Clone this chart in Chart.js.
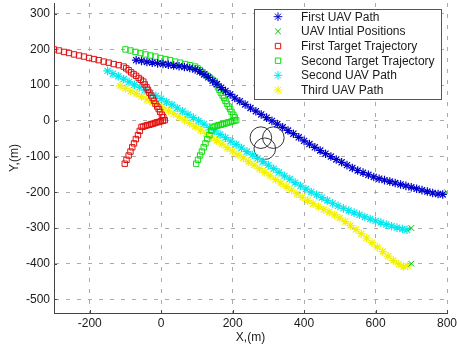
<!DOCTYPE html>
<html>
<head>
<meta charset="utf-8">
<script src="https://cdn.jsdelivr.net/npm/chart.js@4.4.1/dist/chart.umd.min.js"></script>
<style>
html,body{margin:0;padding:0;background:#fff;}
#wrap{width:457px;height:347px;position:relative;}
</style>
</head>
<body>
<div id="wrap"><canvas id="c" width="457" height="347"></canvas></div>
<script>
// ---- data ----
const xTicks = [-200, 0, 200, 400, 600, 800];
const yTicks = [-500, -400, -300, -200, -100, 0, 100, 200, 300];

const seriesLabels = ["First UAV Path", "UAV Intial Positions", "First Target Trajectory",
  "Second Target Trajectory", "Second UAV Path", "Third UAV Path"];

const uav1X = [-70,-55,-40,-25,-10,5,20,35,50,65,80,95,108,120,132,144,156,168,180,193,206,220,
  235,250,265,280,295,310,325,340,355,370,385,400,415,430,445,460,475,490,505,520,535,550,
  565,580,595,610,625,640,655,670,685,700,715,730,745,760,775,788];
const uav1Y = [170,168,165,163,161,159,157,155,153,151,148,144,138,130,122,112,103,93,84,74,64,55,
  46,36,27,18,9,0,-9,-18,-27,-36,-46,-56,-65,-74,-83,-92,-100,-108,-116,-124,-132,-139,
  -145,-151,-157,-162,-166,-170,-174,-178,-182,-186,-190,-194,-198,-202,-205,-206];

const initX = [800, 700, 700];
const initY = [-200, -300, -400];

const target1X = [-300,-286,-272,-258,-244,-230,-216,-202,-188,-175,-161,-147,-133,-119,-105,
  -98,-91,-84,-77,-70,-63,-57,-50,
  -46,-41,-37,-33,-28,-24,-20,-16,-11,-7,-3,2,6,10,
  5,-1,-6,-12,-17,-23,-28,-33,-39,-44,-50,-55,
  -60,-65,-71,-76,-81,-86,-91,-97,-102];
const target1Y = [200,197,193,190,186,183,180,176,173,170,166,163,159,156,152,
  147,142,136,131,126,120,115,110,
  102,94,87,79,71,64,56,48,40,33,25,17,10,2,
  0,-1,-3,-4,-6,-8,-9,-11,-12,-14,-16,-17,
  -28,-40,-51,-63,-74,-86,-97,-109,-120];

const target2X = [-100,-86,-72,-58,-44,-30,-16,-2,12,25,39,53,67,81,95,
  102,109,116,123,130,137,143,150,
  154,159,163,167,172,176,180,184,189,193,197,202,206,210,
  205,199,194,188,183,177,172,167,161,156,150,145,
  140,135,129,124,119,114,109,103,98];
const target2Y = [200,197,193,190,186,183,180,176,173,170,166,163,159,156,152,
  147,142,136,131,126,120,115,110,
  102,94,87,79,71,64,56,48,40,33,25,17,10,2,
  0,-1,-3,-4,-6,-8,-9,-11,-12,-14,-16,-17,
  -28,-40,-51,-63,-74,-86,-97,-109,-120];

const uav2X = [-150,-135,-120,-105,-90,-75,-60,-45,-30,-15,0,15,30,45,60,75,90,105,120,135,
  150,165,180,195,210,225,240,255,270,285,300,315,330,345,360,375,390,405,420,435,
  450,465,480,495,510,525,540,555,570,585,600,615,630,645,660,675,688];
const uav2Y = [140,132,125,117,109,101,94,86,78,70,62,53,45,36,27,18,9,0,-9,-19,
  -28,-38,-47,-57,-66,-76,-86,-95,-105,-114,-124,-134,-144,-154,-163,-173,-182,-191,-199,-207,
  -215,-223,-231,-238,-245,-251,-257,-263,-269,-275,-280,-285,-290,-295,-299,-303,-305];

const uav3X = [-115,-100,-85,-70,-55,-40,-25,-10,5,20,35,50,65,80,95,110,125,140,155,170,
  185,200,215,230,245,260,275,290,305,320,335,350,365,380,395,410,425,440,455,470,
  485,500,515,530,545,560,575,590,605,620,635,650,665,678,690];
const uav3Y = [98,91,83,76,68,60,52,45,37,28,20,11,2,-7,-16,-26,-35,-45,-55,-65,
  -75,-85,-95,-104,-114,-124,-134,-144,-154,-164,-174,-184,-194,-204,-214,-223,-232,-240,-248,-255,
  -263,-272,-282,-293,-304,-316,-328,-341,-353,-366,-379,-391,-401,-408,-406];

const circleX = [279, 314, 290];
const circleY = [-47, -47, -78];

// ---- styling ----
const FONT = '"Liberation Sans", Arial, Helvetica, sans-serif';
const TXT = '#1a1a1a';

function pts(xs, ys){ return xs.map((x,i)=>({x:x, y:ys[i]})); }
function mk(label, xs, ys, style, color, r, bw){
  return {label:label, data:pts(xs,ys), showLine:false, pointStyle:style, pointRadius:r,
    pointHoverRadius:r, pointBorderColor:color, pointBackgroundColor:'rgba(0,0,0,0)',
    pointBorderWidth:bw, borderColor:color, backgroundColor:'rgba(0,0,0,0)'};
}

const styles = [
  {style:'star', color:'#0000cc', r:4.3, bw:1.2},
  {style:'crossRot', color:'#00c000', r:4, bw:1},
  {style:'rect', color:'#e01010', r:3.8, bw:1},
  {style:'rect', color:'#10e010', r:3.8, bw:1},
  {style:'star', color:'#00e8ee', r:4.3, bw:1.2},
  {style:'star', color:'#f2f200', r:4.3, bw:1.2}
];

const datasets = [
  mk(seriesLabels[0], uav1X, uav1Y, styles[0].style, styles[0].color, styles[0].r, styles[0].bw),
  mk(seriesLabels[1], initX, initY, styles[1].style, styles[1].color, styles[1].r, styles[1].bw),
  mk(seriesLabels[2], target1X, target1Y, styles[2].style, styles[2].color, styles[2].r, styles[2].bw),
  mk(seriesLabels[3], target2X, target2Y, styles[3].style, styles[3].color, styles[3].r, styles[3].bw),
  mk(seriesLabels[4], uav2X, uav2Y, styles[4].style, styles[4].color, styles[4].r, styles[4].bw),
  mk(seriesLabels[5], uav3X, uav3Y, styles[5].style, styles[5].color, styles[5].r, styles[5].bw),
  mk('circles', circleX, circleY, 'circle', '#333333', 10.8, 1)
];

function drawMarker(ctx, style, x, y, r){
  ctx.beginPath();
  if (style === 'star' || style === 'cross') {
    ctx.moveTo(x - r, y); ctx.lineTo(x + r, y);
    ctx.moveTo(x, y - r); ctx.lineTo(x, y + r);
  }
  if (style === 'star' || style === 'crossRot') {
    const d = r * Math.SQRT1_2;
    ctx.moveTo(x - d, y - d); ctx.lineTo(x + d, y + d);
    ctx.moveTo(x - d, y + d); ctx.lineTo(x + d, y - d);
  }
  if (style === 'rect') {
    const s = r * Math.SQRT1_2;
    ctx.rect(x - s, y - s, 2 * s, 2 * s);
  }
  ctx.stroke();
}

const extras = {
  id: 'extras',
  afterDraw(chart){
    const ctx = chart.ctx;
    const xs = chart.scales.x, ys = chart.scales.y;
    const a = chart.chartArea;
    ctx.save();
    // inward tick marks
    ctx.strokeStyle = '#444'; ctx.lineWidth = 1;
    ctx.beginPath();
    xTicks.forEach(v => { const px = Math.round(xs.getPixelForValue(v)) + 0.5;
      ctx.moveTo(px, a.bottom); ctx.lineTo(px, a.bottom - 3); });
    yTicks.forEach(v => { const py = Math.round(ys.getPixelForValue(v)) + 0.5;
      ctx.moveTo(a.left, py); ctx.lineTo(a.left + 3, py); });
    ctx.stroke();
    // legend box
    const L = {l:254, t:9, r:441, b:99};
    ctx.fillStyle = '#ffffff';
    ctx.fillRect(L.l, L.t, L.r - L.l, L.b - L.t);
    ctx.strokeStyle = '#555'; ctx.lineWidth = 1;
    ctx.strokeRect(L.l + 0.5, L.t + 0.5, L.r - L.l, L.b - L.t);
    ctx.font = '12px ' + FONT;
    ctx.textBaseline = 'middle';
    ctx.textAlign = 'left';
    seriesLabels.forEach((lab, i) => {
      const y = 16.7 + i * 14.67;
      const st = styles[i];
      ctx.strokeStyle = st.color; ctx.lineWidth = 1;
      drawMarker(ctx, st.style, 278, y, st.r);
      ctx.fillStyle = TXT;
      ctx.fillText(lab, 301, y + 0.5);
    });
    ctx.restore();
  }
};

new Chart(document.getElementById('c'), {
  type: 'scatter',
  data: {datasets: datasets},
  options: {
    responsive: false,
    animation: false,
    devicePixelRatio: 1,
    layout: {autoPadding: false, padding: {top: 3, right: 10, left: 0, bottom: 0}},
    plugins: {legend: {display: false}, tooltip: {enabled: false}},
    scales: {
      x: {
        type: 'linear', min: -300, max: 800,
        afterBuildTicks: s => { s.ticks = xTicks.map(v => ({value: v})); },
        afterFit: s => { s.height = 34; s.paddingLeft = 0; s.paddingRight = 0; },
        grid: {color: '#aaaaaa', lineWidth: 1, drawTicks: false},
        border: {display: true, color: '#444', width: 1, dash: [4, 7]},
        ticks: {color: TXT, font: {family: FONT, size: 12}, padding: 3, maxRotation: 0},
        title: {display: true, text: 'X,(m)', color: TXT, font: {family: FONT, size: 12},
                padding: {top: 0, bottom: 2}}
      },
      y: {
        type: 'linear', min: -538, max: 330,
        afterBuildTicks: s => { s.ticks = yTicks.map(v => ({value: v})); },
        afterFit: s => { s.width = 54; s.paddingTop = 0; s.paddingBottom = 0; },
        grid: {color: '#aaaaaa', lineWidth: 1, drawTicks: false},
        border: {display: true, color: '#444', width: 1, dash: [4, 7]},
        ticks: {color: TXT, font: {family: FONT, size: 12}, padding: 4},
        title: {display: true, text: 'Y,(m)', color: TXT, font: {family: FONT, size: 12},
                padding: {top: 7, bottom: 0}}
      }
    }
  },
  plugins: [extras]
});
</script>
</body>
</html>
